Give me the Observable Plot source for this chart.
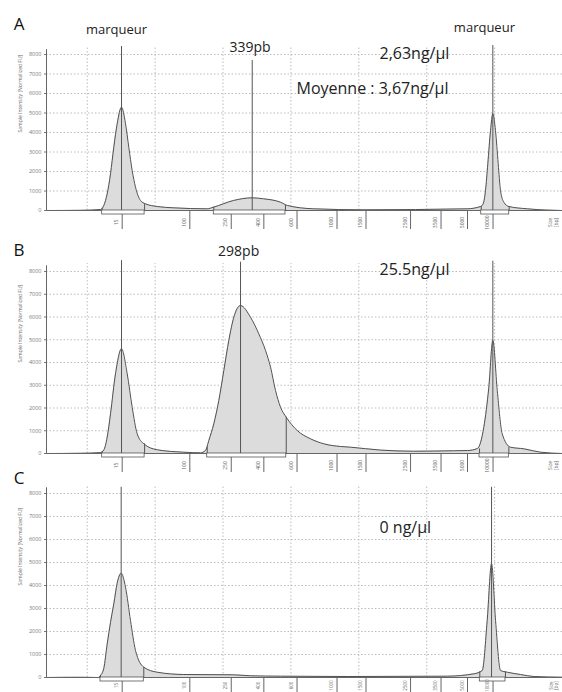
<!DOCTYPE html>
<html><head><meta charset="utf-8">
<script src="https://cdn.jsdelivr.net/npm/d3@7"></script>
<script src="https://cdn.jsdelivr.net/npm/@observablehq/plot@0.6"></script>
<style>
body{margin:0;background:#fff;width:562px;height:692px;overflow:hidden}
#chart svg{display:block;overflow:visible}
</style></head><body><div id="chart"></div>
<script>
// ---- axes ----
const sizeLabels    = ["15","100","250","400","600","1000","1500","2500","3500","5000","10000"];
const sizePositions = [15.15,25.11,31.21,36.01,40.9,46.79,51.06,57.62,62.11,66.01,69.77];
const intensityTicks = [0,1000,2000,3000,4000,5000,6000,7000,8000];
const gridPositions = [10,20,30,40,50,60,70];

// ---- panel A trace (migration units, intensity FU) ----
const migrationA = [4,9,11.95,12.44,12.94,13.43,13.91,14.41,15.05,15.64,16.12,16.62,17.11,17.85,18.58,20.31,22.75,27.67,28.6,31.54,34.3,35.96,38.47,39.5,43.33,50.69,65.97,67.93,68.32,68.66,69.0,69.4,69.74,70.13,70.53,70.87,71.36,72.1,74.81,80];
const intensityA = [0,10,50,256,856,1882,3246,4446,5300,4446,3246,2051,1195,513,342,205,137,87,170,513,650,600,425,256,87,36,87,205,344,1025,2395,4100,4960,4100,2395,1025,425,205,87,0];
// ---- panel B trace ----
const migrationB = [4,9,11.95,12.44,12.94,13.43,14.16,15.05,15.89,16.62,17.36,18.33,20.31,24.22,26.68,27.42,27.91,28.64,29.38,30.12,30.85,31.59,32.58,34.05,35.27,36.26,37.0,37.73,38.47,39.31,40.93,42.89,44.85,47.31,48.78,53.2,58.06,63.95,66.01,67.48,68.41,69.15,69.74,70.39,71.12,72.35,74.31,76.77,80];
const intensityB = [0,10,40,150,720,1745,3500,4600,3500,2035,866,426,163,57,30,132,571,1305,2330,3650,4967,5990,6505,5990,5260,4527,3793,2770,2035,1596,1011,646,426,308,277,150,100,120,130,220,1156,2915,4967,2770,866,277,206,57,0];
// ---- panel C trace ----
const migrationC = [4,9,11.66,11.95,12.44,12.94,13.43,13.91,14.41,15.0,15.64,16.37,17.11,18.33,20.31,24.22,31.54,34.05,38.47,48.29,63.02,66.94,68.18,68.91,69.55,70.14,70.87,71.86,73.82,75.78,80];
const intensityC = [0,10,0,87,400,1460,2400,3200,4100,4535,3926,2480,1174,448,230,130,117,74,57,43,57,160,304,2480,4943,2480,304,230,130,43,13];

// ---- peak marker lines (position, top of line) ----
const peakPosA = [15.05,34.3,69.74], peakTopA = [8410,7690,8460];
const peakPosB = [15.05,32.58,69.74], peakTopB = [8480,8410,8450];
const peakPosC = [15.0,69.55],        peakTopC = [8270,8270];

// ---- integration regions (start, end, curve height at start/end) ----
const regStartA = [12.2,28.64,68.03], regEndA = [18.45,39.2,72.15], regHStartA = [120,170,205], regHEndA = [340,256,205];
const regStartB = [12.2,27.67,67.78], regEndB = [18.45,39.31,72.1], regHStartB = [80,277,200], regHEndB = [426,1596,277];
const regStartC = [11.95,67.82],      regEndC = [18.33,71.6],       regHStartC = [87,250],         regHEndC = [448,250];

// ---- annotations ----
const markerNotesA = ["marqueur","marqueur"], markerNoteXA = [14.3,68.5], markerNoteYA = [9280,9390];
const fragNotesA = ["339pb"], fragNoteXA = [33.97], fragNoteYA = [8360];
const fragNotesB = ["298pb"], fragNoteXB = [32.3], fragNoteYB = [8860];
const concNotesA = ["2,63ng/µl","Moyenne : 3,67ng/µl"], concNoteXA = [53.05,40.82], concNoteYA = [8050,6256];
const concNotesB = ["25.5ng/µl"], concNoteXB = [53.05], concNoteYB = [8088];
const concNotesC = ["0 ng/µl"], concNoteXC = [53.05], concNoteYC = [6500];
const letters = ["A","B","C"], letterY = [9538,8923,8630];

const zip = (xs, ys) => xs.map((x, i) => ({x, y: ys[i]}));
const notes = (t, xs, ys) => t.map((text, i) => ({text, x: xs[i], y: ys[i]}));

function panel(p) {
  const trace = zip(p.mx, p.my);
  const peaks = zip(p.px, p.pt);
  const regions = p.rs.map((s, i) => ({x1: s, x2: p.re[i]}));
  const edges = p.rs.flatMap((s, i) => [{x: s, h: p.rhs[i]}, {x: p.re[i], h: p.rhe[i]}]);
  const ink = "#555";
  const grid = {stroke: "#bcbcbc", strokeOpacity: 1, strokeDasharray: "1.5,2"};
  return Plot.plot({
    width: 562, height: p.height,
    marginTop: p.mt, marginBottom: p.mb, marginLeft: 46, marginRight: 0,
    x: {domain: [4, 80]},
    y: {domain: [0, 8000]},
    style: {fontFamily: "'Open Sans', sans-serif", background: "white", overflow: "visible"},
    marks: [
      Plot.gridY(intensityTicks.slice(1), grid),
      Plot.ruleX(gridPositions, {y1: 0, y2: 8350, ...grid}),
      Plot.areaY(trace, {x: "x", y: "y", fill: "#dcdcdc", curve: "monotone-x"}),
      Plot.lineY(trace, {x: "x", y: "y", stroke: "#505050", strokeWidth: 1, curve: "monotone-x"}),
      Plot.ruleX(peaks, {x: "x", y1: 0, y2: "y", stroke: ink, strokeWidth: 1}),
      Plot.ruleX(edges, {x: "x", y1: 0, y2: "h", stroke: ink, strokeWidth: 1}),
      Plot.ruleY([0], {stroke: "#666"}),
      Plot.ruleX([4], {y1: 0, y2: 8250, stroke: "#666"}),
      Plot.axisX(sizePositions, {tickSize: 19, tickFormat: () => "", label: null, stroke: "#666"}),
      Plot.rect(regions, {x1: "x1", x2: "x2", y1: 0, y2: 0, insetBottom: -4, fill: "white", stroke: ink, strokeWidth: 0.8}),
      Plot.axisY(intensityTicks, {tickSize: 2, tickPadding: 3, fontSize: 5.5, label: null, color: "#777", tickFormat: d => String(d)}),
      Plot.text(sizeLabels, {x: (d, i) => sizePositions[i], text: d => d, frameAnchor: "bottom", rotate: -90, dx: -4, dy: p.tickDy, fontSize: p.tickFont, fill: "#666"}),
      Plot.text(["Size\n[bp]"], {x: 79.4, frameAnchor: "bottom", rotate: -90, dy: p.tickDy, fontSize: p.tickFont, fill: "#666", lineHeight: 1.2}),
      Plot.text(["Sample Intensity [Normalized FU]"], {frameAnchor: "left", rotate: -90, dx: -26, fontSize: 5, fill: "#666"}),
      Plot.text([p.letter], {x: -0.05, y: p.letterY, text: d => d, fontSize: 17, fill: "#111"}),
      Plot.text(p.markerNotes, {x: "x", y: "y", text: "text", fontSize: 13, fill: "#222"}),
      Plot.text(p.fragNotes, {x: "x", y: "y", text: "text", fontSize: 14, fill: "#222"}),
      Plot.text(p.concNotes, {x: "x", y: "y", text: "text", fontSize: 16, textAnchor: "start", fill: "#222"})
    ]
  });
}

const chart = document.getElementById("chart");
chart.append(panel({
  height: 236, mt: 54, mb: 26, letter: letters[0], letterY: letterY[0], tickDy: 12, tickFont: 5,
  mx: migrationA, my: intensityA, px: peakPosA, pt: peakTopA,
  rs: regStartA, re: regEndA, rhs: regHStartA, rhe: regHEndA,
  markerNotes: notes(markerNotesA, markerNoteXA, markerNoteYA),
  fragNotes: notes(fragNotesA, fragNoteXA, fragNoteYA),
  concNotes: notes(concNotesA, concNoteXA, concNoteYA)
}));
chart.append(panel({
  height: 236, mt: 35, mb: 19, letter: letters[1], letterY: letterY[1], tickDy: 12, tickFont: 5,
  mx: migrationB, my: intensityB, px: peakPosB, pt: peakTopB,
  rs: regStartB, re: regEndB, rhs: regHStartB, rhe: regHEndB,
  markerNotes: [],
  fragNotes: notes(fragNotesB, fragNoteXB, fragNoteYB),
  concNotes: notes(concNotesB, concNoteXB, concNoteYB)
}));
chart.append(panel({
  height: 220, mt: 21, mb: 15, letter: letters[2], letterY: letterY[2], tickDy: 8, tickFont: 4.5,
  mx: migrationC, my: intensityC, px: peakPosC, pt: peakTopC,
  rs: regStartC, re: regEndC, rhs: regHStartC, rhe: regHEndC,
  markerNotes: [], fragNotes: [],
  concNotes: notes(concNotesC, concNoteXC, concNoteYC)
}));
</script></body></html>
